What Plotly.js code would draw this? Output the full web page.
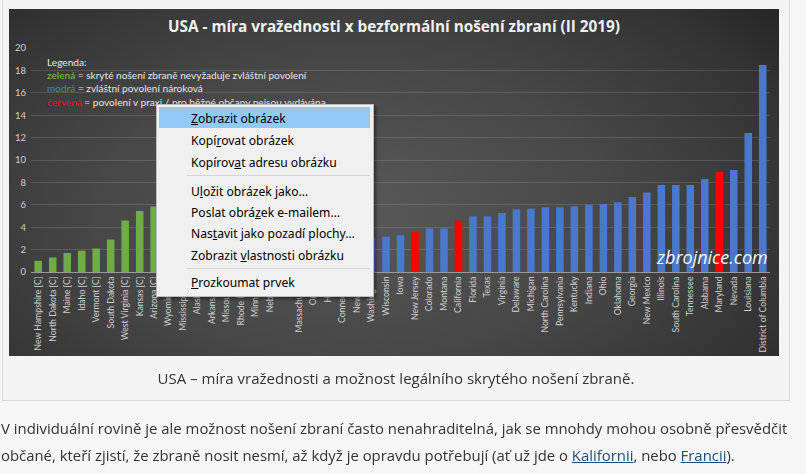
<!DOCTYPE html>
<html>
<head>
<meta charset="utf-8">
<script src="https://cdn.plot.ly/plotly-3.0.1.min.js"></script>
<style>
  html, body { margin:0; padding:0; width:806px; height:474px; overflow:hidden; background:#f6f6f6; }
  #figbox { position:absolute; left:2px; top:-12px; width:786px; height:411px; border:1px solid #d9d9d9; background:#f4f4f4; }
  #chart { position:absolute; left:9px; top:9px; width:770px; height:347px;
    background: radial-gradient(ellipse 75% 95% at 45% 58%, #585858 0%, #474747 45%, #333333 80%, #222222 100%); }
  #caption { position:absolute; left:0; width:792px; top:368px; text-align:center; font-family:"Open Sans", sans-serif; font-size:15px; color:#333; white-space:nowrap; }
  #para { position:absolute; left:1px; top:415px; font-family:"Open Sans", sans-serif; font-size:14.9px; color:#333; line-height:27px; white-space:nowrap; }
  #para a { color:#1d4f7c; text-decoration:underline; }
  #menu { position:absolute; left:156px; top:104px; width:216px; height:191px; background:#f0f0f0; border:1px solid #bdbdbd; box-shadow:2px 2px 3px rgba(0,0,0,0.45); font-family:"Noto Sans", sans-serif; font-size:12.1px; color:#000; }
  #menu .hl { position:absolute; left:2px; top:2px; width:211px; height:21px; background:#91c9f7; }
  #menu .it { position:absolute; left:34px; height:20px; line-height:20px; white-space:nowrap; }
  #menu .sep { position:absolute; left:30px; width:183px; height:1px; background:#d5d5d5; }
</style>
</head>
<body>
<div id="figbox"></div>
<div id="chart"></div>
<div id="caption">USA – míra vražednosti a možnost legálního skrytého nošení zbraně.</div>
<div id="para">V individuální rovině je ale možnost nošení zbraní často nenahraditelná, jak se mnohdy mohou osobně přesvědčit<br>občané, kteří zjistí, že zbraně nosit nesmí, až když je opravdu potřebují (ať už jde o <a href="#">Kalifornii</a>, nebo <a href="#">Francii</a>).</div>
<div id="menu">
  <div class="hl"></div>
  <div class="it" style="top:4px"><u>Z</u>obrazit obrázek</div>
  <div class="it" style="top:26px">Kopí<u>r</u>ovat obrázek</div>
  <div class="it" style="top:48px">Kopírov<u>a</u>t adresu obrázku</div>
  <div class="sep" style="top:70px"></div>
  <div class="it" style="top:77px">U<u>l</u>ožit obrázek jako…</div>
  <div class="it" style="top:98px">Poslat obrá<u>z</u>ek e-mailem…</div>
  <div class="it" style="top:119px">Nas<u>t</u>avit jako pozadí plochy…</div>
  <div class="it" style="top:141px">Zobrazit <u>v</u>lastnosti obrázku</div>
  <div class="sep" style="top:163px"></div>
  <div class="it" style="top:168px"><u>P</u>rozkoumat prvek</div>
</div>
<script>
const states = ["New Hampshire [C]","North Dakota [C]","Maine [C]","Idaho [C]","Vermont [C]","South Dakota","West Virginia [C]","Kansas [C]","Arizona [C]","Wyoming [C]","Mississippi [C]","Alaska [C]","Arkansas [C]","Missouri [C]","Rhode Island","Minnesota","Nebraska","Utah","Massachusetts","Oregon","Hawaii","Connecticut","New York","Washington","Wisconsin","Iowa","New Jersey","Colorado","Montana","California","Florida","Texas","Virginia","Delaware","Michigan","North Carolina","Pennsylvania","Kentucky","Indiana","Ohio","Oklahoma","Georgia","New Mexico","Illinois","South Carolina","Tennessee","Alabama","Maryland","Nevada","Louisiana","District of Columbia"];
const murderRate = [1.0,1.3,1.7,1.9,2.1,2.9,4.6,5.45,5.85,6.3,8.2,8.4,8.6,9.8,1.7,1.9,2.2,2.3,2.4,2.5,2.6,2.8,2.9,3.07,3.16,3.28,3.57,3.9,3.9,4.58,4.97,4.97,5.27,5.6,5.66,5.78,5.78,5.87,6.01,6.07,6.22,6.7,7.09,7.77,7.77,7.77,8.3,8.96,9.11,12.41,18.48];
const carryGroup = ["g","g","g","g","g","g","g","g","g","g","g","g","g","g","b","b","b","b","b","b","r","b","r","b","b","b","r","b","b","r","b","b","b","b","b","b","b","b","b","b","b","b","b","b","b","b","b","r","b","b","b"];
const yTicks = [0,2,4,6,8,10,12,14,16,18,20];
const groupColor = {g:"#6fac46", b:"#4a78cc", r:"#ff0000"};

const W = 770, H = 347, ML = 22, MR = 9, MT = 39, MB = 84;
const pw = W - ML - MR, ph = H - MT - MB;
function px(x){ return (x - 9 - ML) / pw; }
function py(y){ return 1 - (y - 9 - MT) / ph; }

const trace = {
  type:"bar", x:states, y:murderRate,
  marker:{color:carryGroup.map(g => groupColor[g]), line:{width:0}},
  hoverinfo:"x+y"
};
const legendFont = {family:"Lato, sans-serif", size:10.1, color:"#e6e6e6"};
const layout = {
  width:W, height:H,
  margin:{l:ML, r:MR, t:MT, b:MB, pad:0},
  paper_bgcolor:"rgba(0,0,0,0)", plot_bgcolor:"rgba(0,0,0,0)",
  bargap:0.48, showlegend:false,
  title:{text:"<b>USA - míra vražednosti x bezformální nošení zbraní (II 2019)</b>", x:0.5, xref:"container", xanchor:"center", y:1-(27-9)/H, yref:"container", yanchor:"middle", font:{family:"Open Sans, sans-serif", size:15.3, color:"#f0f0f0"}},
  xaxis:{type:"category", tickangle:-90, tickfont:{family:"Lato, sans-serif", size:8.7, color:"#cfcfcf"}, showgrid:false, showline:true, linecolor:"#9a9a9a", linewidth:1, ticks:"", automargin:false, fixedrange:true},
  yaxis:{range:[0,20], tickvals:yTicks, ticktext:yTicks.map(String), tickfont:{family:"Lato, sans-serif", size:9.5, color:"#cfcfcf"}, gridcolor:"rgba(255,255,255,0.13)", gridwidth:1, zeroline:false, showline:false, ticks:"", ticklabelstandoff:4, automargin:false, fixedrange:true},
  annotations:[
    {xref:"paper", yref:"paper", x:px(45), y:py(61.7), xanchor:"left", yanchor:"middle", showarrow:false, text:"Legenda:", font:legendFont},
    {xref:"paper", yref:"paper", x:px(45), y:py(74.5), xanchor:"left", yanchor:"middle", showarrow:false, text:"<span style='color:#7ec04f'>zelená</span> = skryté nošení zbraně nevyžaduje zvláštní povolení", font:legendFont},
    {xref:"paper", yref:"paper", x:px(45), y:py(88.3), xanchor:"left", yanchor:"middle", showarrow:false, text:"<span style='color:#4f7fd6'>modrá</span> = zvláštní povolení nároková", font:legendFont},
    {xref:"paper", yref:"paper", x:px(45), y:py(101.5), xanchor:"left", yanchor:"middle", showarrow:false, text:"<span style='color:#ff0000'>červená</span> = povolení v praxi / pro běžné občany nejsou vydávána", font:legendFont},
    {xref:"paper", yref:"paper", x:px(712), y:py(257), xanchor:"center", yanchor:"middle", showarrow:false, text:"<i>zbrojnice.com</i>", font:{family:"Open Sans, sans-serif", size:18, color:"#f4f4f4"}}
  ]
};
Plotly.newPlot("chart", [trace], layout, {displayModeBar:false, staticPlot:true});
</script>
</body>
</html>
